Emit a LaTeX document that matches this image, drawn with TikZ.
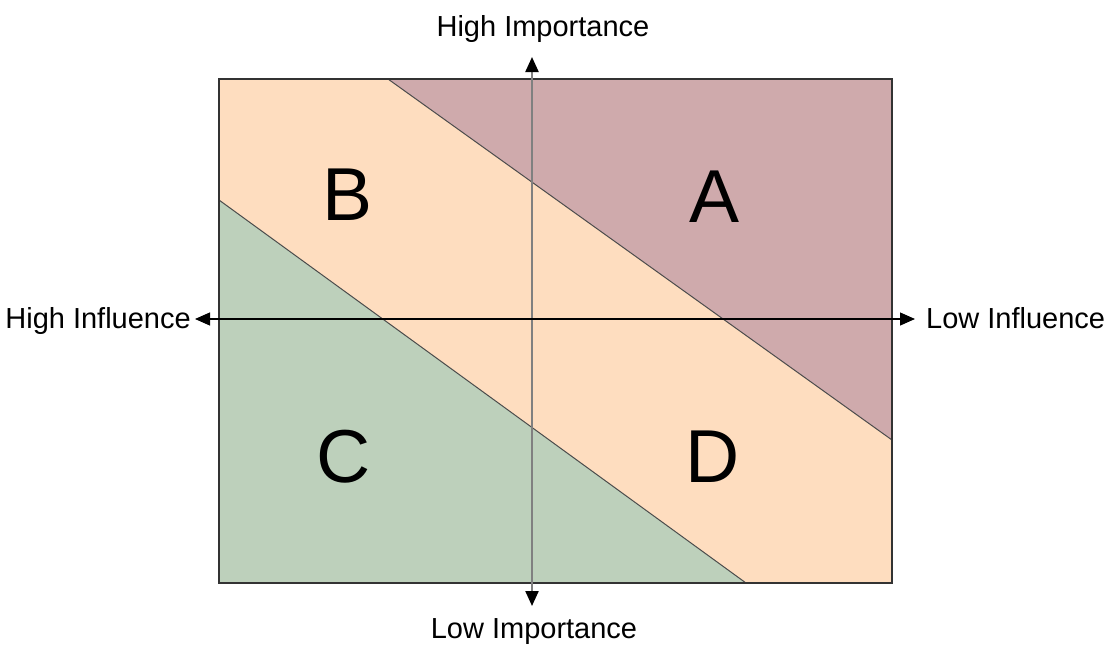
\documentclass[tikz,border=0pt]{standalone}
\usepackage{fontspec}
\setmainfont{Liberation Sans}
\usetikzlibrary{arrows.meta}
\definecolor{zoneA}{RGB}{207,170,172}
\definecolor{zoneB}{RGB}{254,221,191}
\definecolor{zoneC}{RGB}{189,208,187}
\tikzset{
  axislabel/.style={font=\fontsize{29}{32}\selectfont, inner sep=0pt, anchor=base},
  zoneletter/.style={font=\fontsize{75}{80}\selectfont, inner sep=0pt},
  divider/.style={draw=black!70, line width=1pt},
  bothtips/.style={{Triangle[length=15pt 0,width=13pt 0,color=black]}-{Triangle[length=15pt 0,width=13pt 0,color=black]}},
}
\begin{document}
\begin{tikzpicture}[x=1pt,y=-1pt]
\useasboundingbox (0,0) rectangle (1106,648);
% zones
\fill[zoneB] (219,79) rectangle (892,583);
\fill[zoneA] (388,79) -- (892,79) -- (892,440) -- cycle;
\fill[zoneC] (219,200) -- (746,583) -- (219,583) -- cycle;
\coordinate (a1) at (388,79);
\coordinate (a2) at (892,440);
\coordinate (c1) at (219,200);
\coordinate (c2) at (746,583);
\draw[divider] (a1) -- (a2);
\draw[divider] (c1) -- (c2);
\draw[draw=black!80, line width=1.5pt] (219,79) rectangle (892,583);
% letters
\node[zoneletter] (A) at (715,197) {A};
\node[zoneletter] (B) at (348,195) {B};
\node[zoneletter] (C) at (344,457) {C};
\node[zoneletter] (D) at (713,457) {D};
% axes
\coordinate (vtop) at (532,57);
\coordinate (vbot) at (532,606);
\coordinate (hleft) at (195,319);
\coordinate (hright) at (915,319);
\draw[draw=black!50, line width=2.2pt, bothtips] (vtop) -- (vbot);
\draw[line width=1.2pt, bothtips] (hleft) -- (hright);
% labels
\node[axislabel] (hiimp) at (543,36) {High Importance};
\node[axislabel] (loimp) at (534,638) {Low Importance};
\node[axislabel, anchor=base east] (hiinf) at (191,328) {High Influence};
\node[axislabel, anchor=base west] (loinf) at (926,328) {Low Influence};
\end{tikzpicture}
\end{document}
